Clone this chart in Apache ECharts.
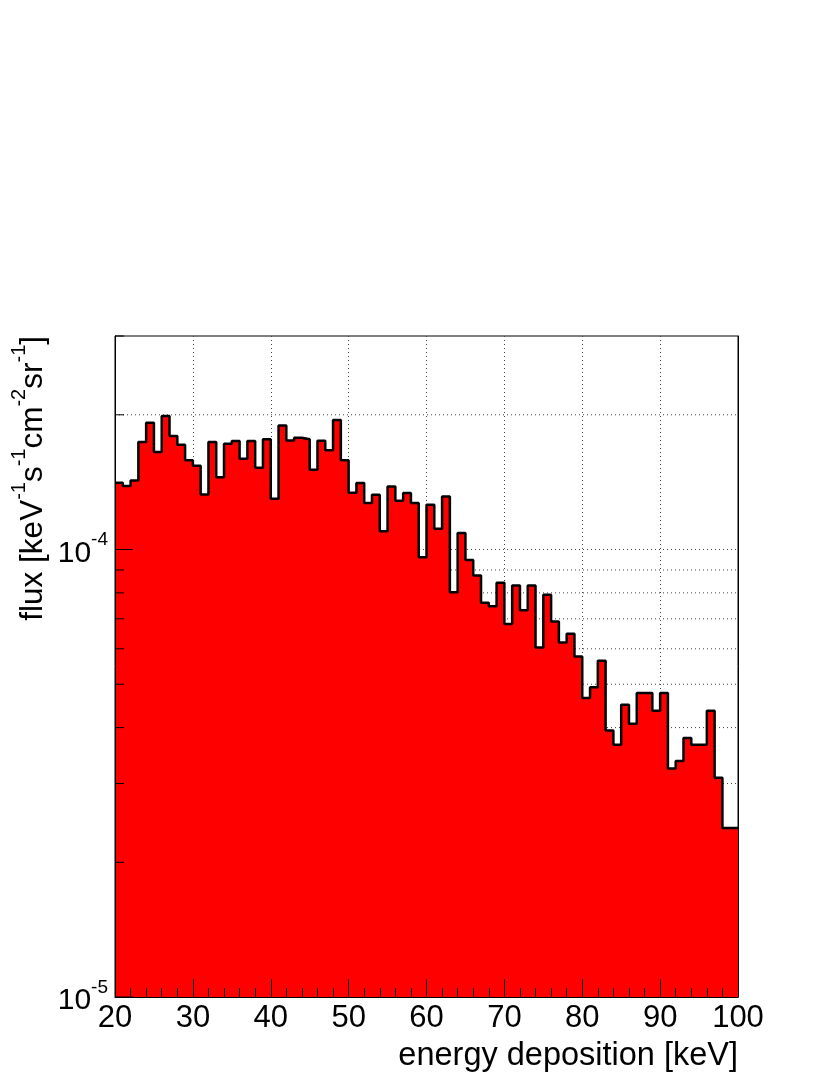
<!DOCTYPE html>
<html>
<head>
<meta charset="utf-8">
<script src="https://cdn.jsdelivr.net/npm/echarts@6/dist/echarts.min.js"></script>
<style>
html,body{margin:0;padding:0;background:#fff;}
#chart{width:830px;height:1075px;}
</style>
</head>
<body>
<div id="chart"></div>
<script>
// ---- data ----
const binStart = 20;   // keV, low edge of first bin
const binWidth = 1;    // keV
const flux = [
  1.41e-4, 1.386e-4, 1.427e-4, 1.738e-4, 1.920e-4, 1.651e-4, 1.987e-4, 1.793e-4, 1.715e-4, 1.582e-4,
  1.539e-4, 1.327e-4, 1.738e-4, 1.451e-4, 1.724e-4, 1.747e-4, 1.596e-4, 1.747e-4, 1.523e-4, 1.763e-4,
  1.298e-4, 1.894e-4, 1.753e-4, 1.778e-4, 1.763e-4, 1.508e-4, 1.751e-4, 1.666e-4, 1.947e-4, 1.582e-4,
  1.339e-4, 1.408e-4, 1.271e-4, 1.326e-4, 1.099e-4, 1.383e-4, 1.285e-4, 1.338e-4, 1.271e-4, 9.61e-5,
  1.259e-4, 1.113e-4, 1.314e-4, 8.03e-5, 1.088e-4, 9.48e-5, 8.75e-5, 7.60e-5, 7.47e-5, 8.43e-5,
  6.82e-5, 8.31e-5, 7.32e-5, 8.31e-5, 6.04e-5, 7.92e-5, 6.90e-5, 6.20e-5, 6.48e-5, 5.77e-5,
  4.66e-5, 4.92e-5, 5.64e-5, 3.94e-5, 3.66e-5, 4.50e-5, 4.08e-5, 4.78e-5, 4.78e-5, 4.36e-5,
  4.78e-5, 3.24e-5, 3.37e-5, 3.79e-5, 3.66e-5, 3.66e-5, 4.36e-5, 3.09e-5, 2.385e-5, 2.385e-5
];
const xMin = 20, xMax = 100, xInterval = 10;
const yMin = 1e-5, yMax = 3.0e-4;
const yMajorTicks = [1e-5, 1e-4];
const yMinorTicks = [2e-5, 3e-5, 4e-5, 5e-5, 6e-5, 7e-5, 8e-5, 9e-5, 2e-4, 3e-4];
const yGridValues = [2e-5, 3e-5, 4e-5, 5e-5, 6e-5, 7e-5, 8e-5, 9e-5, 1e-4, 2e-4];
const xTitle = 'energy deposition [keV]';
const yTitleParts = [['flux [keV', '-1'], ['s', '-1'], ['cm', '-2'], ['sr', '-1'], [']', '']];

// ---- build ----
const stepData = flux.map((v, i) => [binStart + i * binWidth, v]);
stepData.push([binStart + flux.length * binWidth, flux[flux.length - 1]]);

const FONT = 'Liberation Sans, Arial, Helvetica, sans-serif';
const chart = echarts.init(document.getElementById('chart'), null, {renderer: 'canvas'});

function tickSeries(values, len, z) {
  return {
    type: 'custom', xAxisIndex: 0, yAxisIndex: 0, z: z, silent: true,
    data: values.map(v => [xMin, v]),
    renderItem: function (params, api) {
      const p = api.coord([api.value(0), api.value(1)]);
      return {type: 'line', shape: {x1: p[0], y1: p[1], x2: p[0] + len, y2: p[1]},
        style: {stroke: '#000', lineWidth: 1}};
    }
  };
}

const yTitleText = yTitleParts.map(p => '{t|' + p[0] + '}' + (p[1] ? '{s|' + p[1] + '}' : '')).join('');

const option = {
  animation: false,
  backgroundColor: '#fff',
  grid: {left: 115, right: 92, top: 336, bottom: 78, show: true, borderColor: '#000', borderWidth: 1, backgroundColor: 'transparent'},
  xAxis: [
    { // grid lines (below the histogram)
      type: 'value', min: xMin, max: xMax, interval: xInterval, z: 0,
      axisLine: {show: false}, axisTick: {show: false}, axisLabel: {show: false},
      splitLine: {show: true, lineStyle: {color: '#444', width: 1, type: [1, 3]}}
    },
    { // axis line, ticks and labels (above the histogram)
      type: 'value', min: xMin, max: xMax, interval: xInterval, z: 10, position: 'bottom',
      axisLine: {show: true, onZero: false, lineStyle: {color: '#000', width: 1}},
      axisTick: {show: true, inside: true, length: 18, lineStyle: {color: '#000', width: 1}},
      minorTick: {show: true, splitNumber: 5, length: 9, lineStyle: {color: '#000', width: 1}},
      splitLine: {show: false},
      axisLabel: {show: true, margin: 6, color: '#000', fontSize: 31, fontFamily: FONT}
    }
  ],
  yAxis: [
    {
      type: 'log', logBase: 10, min: yMin, max: yMax, z: 10,
      axisLine: {show: true, onZero: false, lineStyle: {color: '#000', width: 1}},
      axisTick: {show: false},
      splitLine: {show: false},
      axisLabel: {
        show: true, margin: 7, color: '#000', fontFamily: FONT,
        formatter: function (v) {
          const e = Math.log10(v);
          if (Math.abs(e - Math.round(e)) > 1e-6) return '';
          return '{b|10}{s|' + Math.round(e) + '}';
        },
        rich: {
          b: {fontSize: 30, fontFamily: FONT, color: '#000', lineHeight: 38, verticalAlign: 'bottom'},
          s: {fontSize: 19, fontFamily: FONT, color: '#000', lineHeight: 19, verticalAlign: 'top'}
        }
      }
    },
    {
      type: 'log', logBase: 10, min: yMin, max: yMax, z: 10, position: 'right',
      axisLine: {show: true, onZero: false, lineStyle: {color: '#000', width: 1}},
      axisTick: {show: false}, axisLabel: {show: false}, splitLine: {show: false}
    }
  ],
  graphic: [
    {
      type: 'text', x: 738, y: 1056, z: 20,
      style: {text: xTitle, align: 'right', verticalAlign: 'middle', fill: '#000', fontSize: 32.5, fontFamily: FONT}
    },
    {
      type: 'text', x: 29, y: 336, rotation: Math.PI / 2, z: 20,
      style: {
        text: yTitleText, align: 'right', verticalAlign: 'middle',
        rich: {
          t: {fontSize: 31.5, fontFamily: FONT, fill: '#000', lineHeight: 40, verticalAlign: 'bottom'},
          s: {fontSize: 20, fontFamily: FONT, fill: '#000', lineHeight: 20, verticalAlign: 'top'}
        }
      }
    }
  ],
  series: [
    { // horizontal dotted grid lines
      type: 'custom', xAxisIndex: 0, yAxisIndex: 0, z: 1, silent: true,
      data: yGridValues.map(v => [xMin, v]),
      renderItem: function (params, api) {
        const p1 = api.coord([xMin, api.value(1)]);
        const p2 = api.coord([xMax, api.value(1)]);
        return {type: 'line', shape: {x1: p1[0], y1: p1[1], x2: p2[0], y2: p2[1]},
          style: {stroke: '#444', lineWidth: 1, lineDash: [1, 3]}};
      }
    },
    {
      type: 'line', xAxisIndex: 0, yAxisIndex: 0, z: 3,
      step: 'end', symbol: 'none', data: stepData,
      lineStyle: {color: '#000', width: 2.5},
      areaStyle: {color: '#ff0000', opacity: 1, origin: 'start'}
    },
    tickSeries(yMajorTicks, 18, 12),
    tickSeries(yMinorTicks, 9, 12)
  ]
};
chart.setOption(option);
</script>
</body>
</html>
